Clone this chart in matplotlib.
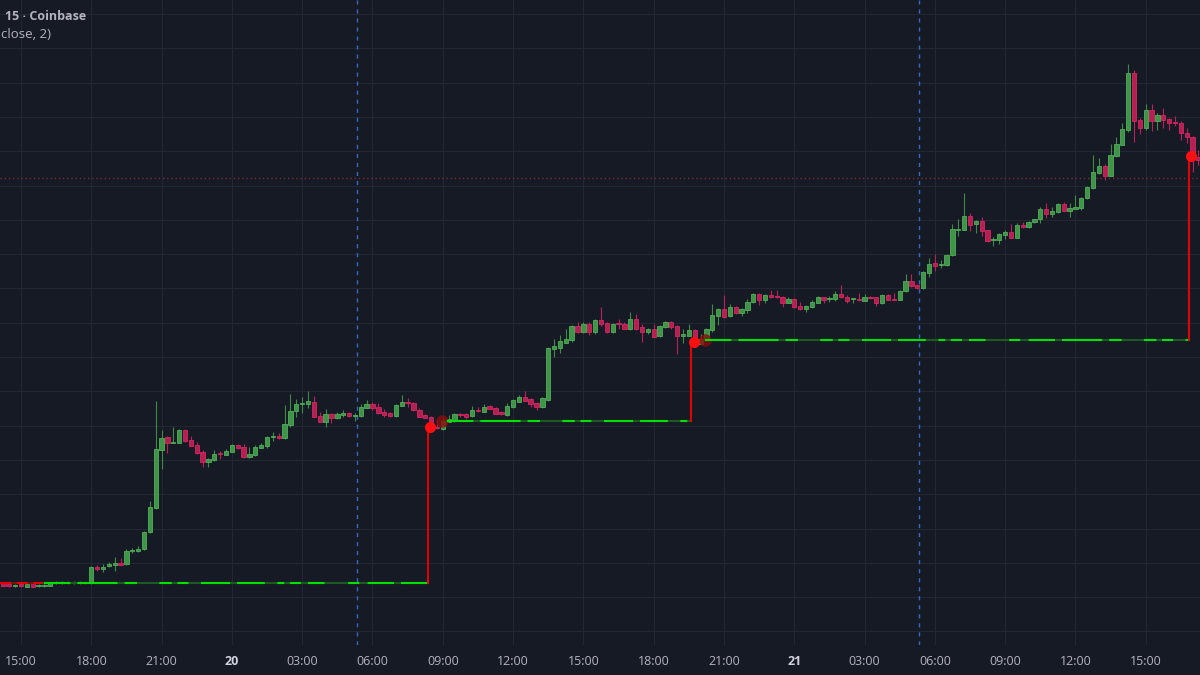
import numpy as np
import pandas as pd
import matplotlib
matplotlib.use("Agg")
from matplotlib import pyplot as plt
from matplotlib.ticker import MultipleLocator, FixedLocator

# 15 min candles, relative price level (no price scale is visible in the picture)
start = "2024-03-19 14:15"
opens = [117, 116, 114, 116, 113.3, 117, 114, 114, 114, 116.7, 117, 118, 117, 118, 117.7,
         117, 133, 131, 134, 135, 137, 136, 149, 149, 151, 168, 192, 250, 263, 257, 257,
         270, 260, 255, 248, 238, 240, 247, 245, 248, 255, 253, 243, 245, 252, 254, 263,
         264, 262, 275, 289, 296, 296, 298, 284, 278, 286, 282, 285, 287, 284.5, 284, 292,
         296, 293, 288, 287, 284, 294, 298, 297, 290, 285, 283, 273, 271, 278, 279, 286,
         286, 284, 290, 288, 294, 292, 288, 285, 293, 298, 303, 301, 297, 293, 300, 351,
         352, 357, 360, 374, 368, 376, 368, 380, 377, 368, 377, 376, 371, 381, 373, 368,
         371, 364, 373, 378, 374, 364, 364, 370, 356, 360, 370, 384, 391, 384, 393, 387,
         390, 398, 406, 400, 405, 404, 403, 397, 401, 394, 391, 393, 397, 403, 401, 401,
         406, 403, 400.7, 401, 399, 403, 403, 397, 405, 401, 400, 409, 419, 415, 412, 427,
         437, 435, 435, 445, 470, 470, 484, 476, 479, 470, 460, 460, 465, 468, 462, 475,
         473, 478, 481, 491, 486, 488, 496, 489, 491, 492, 502, 512, 527, 534, 524, 544,
         555, 570, 627, 580, 572, 590, 579, 585, 581, 578, 577, 567, 563, 543]
highs = [118, 117.3, 116, 117, 116.3, 117.3, 116, 116, 117, 119.3, 119, 118.7, 119, 119, 118,
         134, 135, 136, 138, 143, 142, 151, 152, 154, 169, 199, 299, 270, 264, 273, 271,
         271, 264, 258, 250, 242, 250, 249, 251, 256, 256, 256, 253, 255, 257, 264, 268,
         267, 295, 306, 301, 303, 309, 304, 288, 291, 287, 288, 290, 288, 287, 296, 300,
         298, 297, 291, 288, 296, 305, 302, 298, 292, 286, 284, 280, 283, 285, 287, 287,
         287, 294, 293, 296, 295, 293, 289, 297, 301, 305, 309, 302, 298, 303, 353, 361,
         365, 371, 375, 378, 378, 378, 381, 393, 378, 377, 381, 378, 388, 386, 376, 372,
         376, 375, 379, 379, 375, 371, 376, 371, 366, 372, 396, 392, 405, 396, 394, 392,
         401, 407, 407, 406, 410, 410, 404, 403, 402, 398, 395, 400, 404, 403.3, 404.3, 409,
         415, 405, 402, 407, 406, 404, 403, 406, 406, 407.3, 410, 426, 426, 416, 429, 442,
         446, 440, 446, 476, 481, 507, 487, 480, 483.3, 470, 463.3, 467, 470, 476, 477, 478.3,
         479.3, 481.3, 493, 497, 493.3, 497, 498.3, 497, 505, 503, 514, 545, 542, 536, 556,
         563, 577, 636, 630, 582, 596, 596, 587.3, 592, 582.3, 584, 579, 572, 564, 550]
lows = [114, 113.3, 113, 113, 113, 113, 113, 113.3, 114, 116, 116, 116.3, 116.3, 116.3, 116.5,
        116, 129, 128, 133, 129, 135, 135, 147, 148, 150, 167, 191, 231, 247, 257, 257,
        258, 254, 246, 233, 233, 239, 241, 245, 248, 251, 242, 242, 244, 252, 252, 259,
        261, 261, 273, 283, 287, 292, 283, 278, 273, 277, 281, 283, 283, 279, 283, 292,
        290, 286, 283, 283, 283, 294, 293, 289, 283, 282, 271, 271, 270, 278, 278, 283,
        281, 283, 288, 288, 291, 286, 285, 284, 292, 298, 299, 293, 290, 292, 299, 343,
        347, 357, 358, 367, 367, 365, 366, 374, 367, 367, 371, 371, 370, 370, 358, 366,
        363, 363, 372, 371, 346, 357, 364, 357, 356, 359, 368, 375, 382, 383, 386, 384,
        387, 397, 395, 397, 402, 402, 393, 397, 392, 390, 388, 392, 397, 397.3, 398.3, 399.3,
        402, 397.3, 397, 399.3, 399, 401, 394.3, 396, 400, 400, 400, 408, 413, 411, 411, 423,
        429, 432, 434, 444, 464, 470, 469, 467, 464, 458, 454, 456, 461, 462, 462, 472.3,
        472, 477.3, 477, 482, 483.3, 487, 489, 483, 491, 490, 501, 511, 526, 520, 524, 543,
        555, 568, 558, 566, 570, 569, 570, 572, 570, 574, 560, 557, 528, 535]
closes = [114, 114, 115, 114, 116, 113, 115, 115, 117, 118, 118, 117, 118, 117, 116.7,
          133, 131, 133, 136, 137, 135, 149, 150, 151, 168, 193, 251, 262, 257, 258, 270,
          259, 254, 247, 238, 241, 246, 246, 249, 255, 252, 243, 246, 253, 255, 263, 264,
          262, 276, 289, 296, 297, 299, 283, 278, 286, 282, 286, 287, 284, 285.3, 293, 296,
          292, 287, 285, 284, 295, 298, 297, 290, 283, 282, 273, 272, 279, 281, 286, 285,
          283, 290, 289, 293, 291, 286, 286, 294, 300, 303, 299, 296, 293, 302, 352, 354,
          359, 361, 374, 368, 376, 368, 380, 376, 368, 376, 376, 371, 381, 371, 368, 371,
          363, 374, 378, 373, 364, 366, 370, 358, 361, 371, 385, 391, 383, 393, 387, 391,
          398, 406, 400, 405, 403, 403, 397, 401, 393, 391, 394, 398, 403, 400, 402, 406,
          403, 399, 401.7, 400, 403, 402, 397, 405, 400, 400, 409, 419, 414, 412, 428, 436,
          434, 436, 445, 471, 471, 484, 475, 479, 469, 459, 461, 466, 468, 462, 475, 473,
          478, 481, 491, 486, 489, 496, 489, 492, 493, 502, 513, 528, 534, 524, 545, 556,
          571, 627, 579, 572, 590, 579, 585, 580, 577, 577, 567, 563, 544, 540]

# step indicator: levels, where each level runs (candle index) and the breakout bars
step_levels = [117, 279, 360]
step_from = [7, 75.7, 119.8]
step_to = [72.5, 117.4, 202.3]
signal_bars = [73, 118, 203]
last_price = 521.7
session_breaks = ["2024-03-20 05:20", "2024-03-21 05:20"]

times = pd.date_range(start, periods=len(opens), freq="15min")
o = np.array(opens, float)
h = np.array(highs, float)
l = np.array(lows, float)
c = np.array(closes, float)
x = np.arange(len(o))

bg = "#161a25"
plt.rcParams["lines.scale_dashes"] = False
plt.rcParams["font.family"] = ["Open Sans", "DejaVu Sans"]

fig = plt.figure(figsize=(12, 6.75), dpi=100, facecolor=bg)
ax = fig.add_axes([0, 30 / 675, 1, 645 / 675])
ax.set_facecolor(bg)

up = c >= o
g_face, g_edge, g_wick = "#3e9447", "#52ad5a", "#3f8a46"
r_face, r_edge, r_wick = "#b51f52", "#d22862", "#b8215a"

ax.vlines(x[up], l[up], h[up], color=g_wick, lw=0.8, zorder=3)
ax.vlines(x[~up], l[~up], h[~up], color=r_wick, lw=0.8, zorder=3)
body = np.where(np.abs(c - o) < 0.9, 0.9, np.abs(c - o))
bottom = np.minimum(o, c)
ax.bar(x[up], body[up], bottom=bottom[up], width=0.74, color=g_face,
       edgecolor=g_edge, linewidth=0.6, zorder=4)
ax.bar(x[~up], body[~up], bottom=bottom[~up], width=0.74, color=r_face,
       edgecolor=r_edge, linewidth=0.6, zorder=4)

# step line
dash = (0, (19, 5, 29, 5, 9, 16, 9, 4, 8, 9, 21, 5, 20, 9, 5, 4, 8, 5, 12, 17, 8, 6))
x0 = -0.6
ax.plot([x0, step_from[0]], [step_levels[0]] * 2, color="#6e1212", lw=1.5, zorder=5)
ax.plot([x0, step_from[0]], [step_levels[0]] * 2, color="#e00000", lw=1.5,
        linestyle=(0, (8, 4)), zorder=5)
for k in range(len(step_levels)):
    lv = step_levels[k]
    ax.plot([step_from[k], step_to[k]], [lv, lv], color="#1d5a22", lw=1.5, zorder=5)
    ax.plot([step_from[k], step_to[k]], [lv, lv], color="#00e000", lw=1.5,
            linestyle=dash, zorder=6)
    sb = signal_bars[k]
    ax.plot([step_to[k], step_to[k]], [lv, c[sb]], color="#e00000", lw=1.5, zorder=6)
    ax.plot(sb - 0.2, c[sb], "o", ms=8, color="#ff1010", mec="none", zorder=7)
    if k + 1 < len(step_levels):
        ax.plot(sb + 1.8, step_levels[k + 1], "o", ms=9, color="#8a0c0c",
                alpha=0.8, mec="none", zorder=5)

# last price line
ax.axhline(last_price, color="#7d2a37", lw=1, linestyle=(0, (1, 2)), zorder=2)

# session breaks
t0 = times[0]
for s in session_breaks:
    xs = (pd.Timestamp(s) - t0) / pd.Timedelta("15min")
    ax.axvline(xs, color="#3568c0", lw=1, linestyle=(0, (3, 3.5)), zorder=2)

# time axis
tick_pos = [j for j, t in enumerate(times) if t.minute == 0 and t.hour % 3 == 0]
tick_lab = [str(times[j].day) if times[j].hour == 0 else times[j].strftime("%H:%M")
            for j in tick_pos]
ax.xaxis.set_major_locator(FixedLocator(tick_pos))
ax.set_xticklabels(tick_lab)
ax.tick_params(axis="x", length=0, pad=7.5, labelsize=9, colors="#b2b5be")
for lab in ax.get_xticklabels():
    if ":" not in lab.get_text():
        lab.set_fontweight("bold")
        lab.set_color("#d1d4dc")
ax.tick_params(axis="y", left=False, labelleft=False)
ax.yaxis.set_major_locator(MultipleLocator(34.3))
ax.grid(True, color="#232733", lw=0.8, zorder=0)
ax.set_axisbelow(True)
for sp in ax.spines.values():
    sp.set_visible(False)

ax.set_xlim(-0.585, 204.26)
ax.set_ylim(55, 700)

fig.text(5 / 1200, 1 - 17 / 675, "15 · Coinbase", color="#b2b5be", fontsize=9,
         fontweight="bold", va="center")
fig.text(1 / 1200, 1 - 34 / 675, "close, 2)", color="#b2b5be", fontsize=9.5, va="center")

fig.savefig("out.png", dpi=100, facecolor=bg)
